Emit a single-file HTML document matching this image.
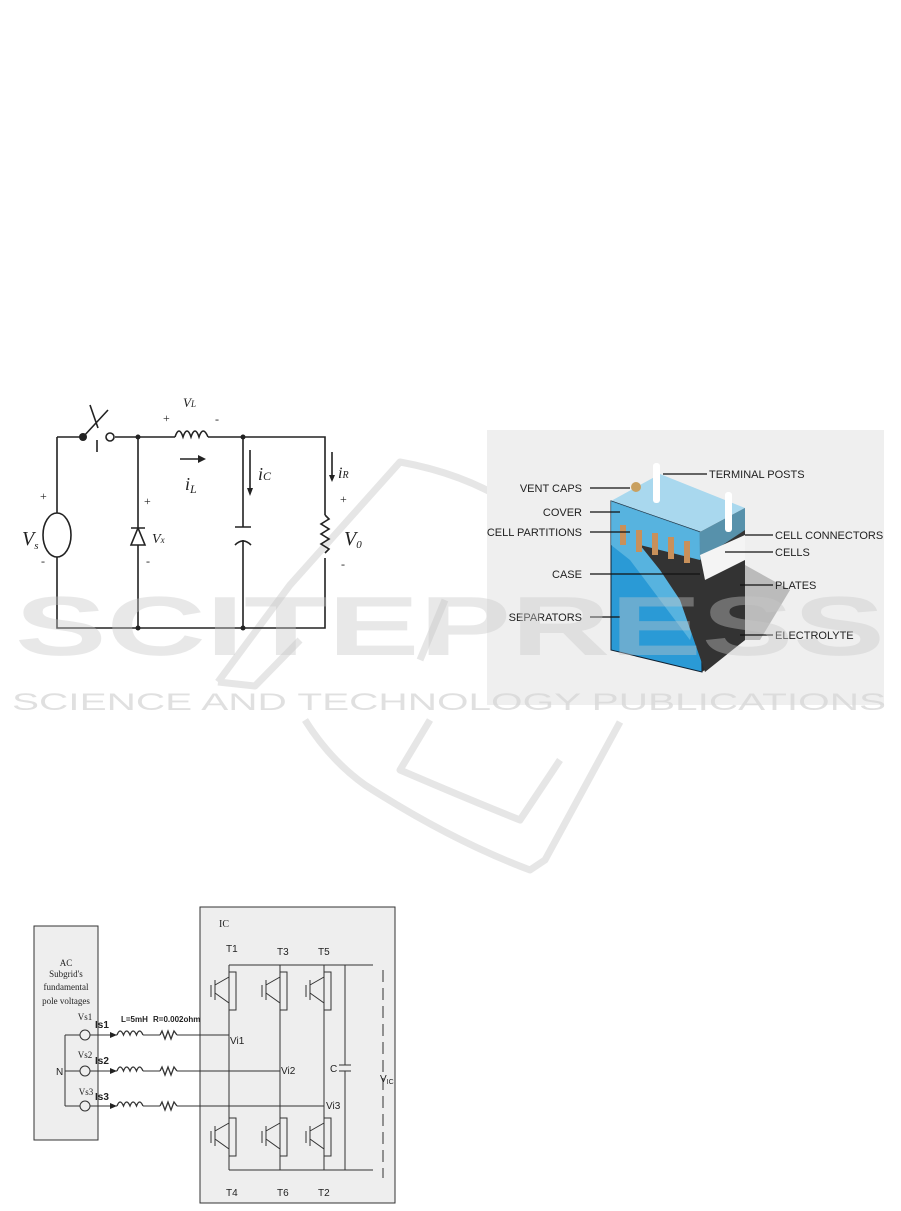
<!DOCTYPE html>
<html><head><meta charset="utf-8"><style>
html,body{margin:0;padding:0;background:#fff}
svg{display:block}
.it{font-family:"Liberation Serif",serif;font-style:italic}
.bl{font-family:"Liberation Sans Narrow","Liberation Sans",sans-serif;font-size:11px;fill:#222}
.sm{font-family:"Liberation Sans",sans-serif;font-size:10px;fill:#222}
.se{font-family:"Liberation Serif",serif;font-size:9px;fill:#222}
</style></head><body>
<svg width="901" height="1211" viewBox="0 0 901 1211" xmlns="http://www.w3.org/2000/svg">
<!-- swoosh watermark outline -->
<g stroke="#e6e6e6" stroke-width="7" fill="none" stroke-linejoin="round">
<path d="M218 682 L290 585 L400 462 Q500 480 560 545"/>
<path d="M218 682 L255 686 L300 640"/>
<path d="M305 720 Q330 760 365 785 Q450 840 530 870 L545 860 L620 722"/>
<path d="M430 720 L400 770 Q470 800 520 820 L560 760"/>
<path d="M420 660 L445 600"/>
</g>

<!-- top circuit -->
<g stroke="#222" stroke-width="1.6" fill="none">
<path d="M57 437 H83 M115 437 H175 M208 437 H325 V515 M325 558 V628 H57 V557 M57 513 V437"/>
<ellipse cx="57" cy="535" rx="14" ry="22"/>
<circle cx="110" cy="437" r="4"/>
<path d="M83 437 L108 410 M90 405 L98 428 M97 440 V452"/>
<path d="M175 437 q4 -12 8 0 q4 -12 8 0 q4 -12 8 0 q4 -12 9 0"/>
<path d="M138 437 V528 M138 545 V628 M131 545 H145 L138 528 Z M131 528 H145"/>
<path d="M243 437 V527 M235 527 H251 M235 545 Q243 537 251 545 M243 540 V628"/>
<path d="M325 515 l4 4 l-8 5 l8 5 l-8 5 l8 5 l-8 5 l8 5 l-4 4"/>
<path d="M180 459 H200 M332 452 V478 M250 450 V492"/>
</g>
<g fill="#222"><circle cx="138" cy="437" r="2.5"/><circle cx="243" cy="437" r="2.5"/><circle cx="138" cy="628" r="2.5"/><circle cx="243" cy="628" r="2.5"/><circle cx="83" cy="437" r="4"/>
<path d="M198 455 L206 459 L198 463Z"/><path d="M247 488 L250 496 L253 488Z"/><path d="M329 475 L332 482 L335 475Z"/></g>
<g class="it" fill="#222" font-size="12">
<text x="22" y="545" font-size="20">V<tspan font-size="11" dy="4">s</tspan></text>
<text x="40" y="500" font-style="normal">+</text><text x="41" y="565" font-style="normal">-</text>
<text x="152" y="543" font-size="14">V<tspan font-size="9">x</tspan></text>
<text x="144" y="505" font-style="normal">+</text><text x="146" y="565" font-style="normal">-</text>
<text x="183" y="407" font-size="13">V<tspan font-size="9">L</tspan></text>
<text x="163" y="422" font-style="normal">+</text><text x="215" y="423" font-style="normal">-</text>
<text x="185" y="490" font-size="18">i<tspan font-size="12" dy="3">L</tspan></text>
<text x="258" y="480" font-size="18">i<tspan font-size="12">C</tspan></text>
<text x="338" y="478" font-size="16">i<tspan font-size="10">R</tspan></text>
<text x="340" y="503" font-style="normal">+</text><text x="341" y="568" font-style="normal">-</text>
<text x="344" y="545" font-size="20">V<tspan font-size="11" dy="3">0</tspan></text>
</g>

<!-- battery -->
<rect x="487" y="430" width="397" height="275" fill="#efefef"/>
<polygon points="611,501 660,474 745,508 700,532" fill="#a9d8ee"/>
<polygon points="611,501 700,532 702,672 611,650" fill="#2a9ad6" stroke="#123" stroke-width="1"/>
<polygon points="700,532 745,508 745,640 702,672" fill="#2b2b2b"/>
<polygon points="611,501 700,532 745,508 745,560 700,600 690,640 660,600 630,560 611,545" fill="#6bbde3" opacity="0.7"/>
<polygon points="640,545 700,560 745,530 745,640 705,672 680,600 660,570" fill="#333"/>
<polygon points="700,555 745,535 745,560 705,580" fill="#f4f4f4"/>
<g fill="#c8905a"><rect x="620" y="525" width="6" height="20"/><rect x="636" y="530" width="6" height="22"/><rect x="652" y="533" width="6" height="22"/><rect x="668" y="537" width="6" height="22"/><rect x="684" y="541" width="6" height="22"/></g>
<g fill="#fff"><rect x="653" y="463" width="7" height="40" rx="3"/><rect x="725" y="492" width="7" height="40" rx="3"/><circle cx="636" cy="487" r="5" fill="#c9a060"/></g>
<polygon points="745,565 790,590 760,640 745,640" fill="#888" opacity="0.5"/>
<g stroke="#111" stroke-width="1.3">
<path d="M663 474 H707 M590 488 H630 M590 512 H620 M590 532 H630 M590 574 H700 M590 617 H620 M745 535 H773 M725 552 H773 M740 585 H773 M740 635 H773"/>
</g>
<g class="bl">
<text x="709" y="478">TERMINAL POSTS</text>
<text x="582" y="492" text-anchor="end">VENT CAPS</text>
<text x="582" y="516" text-anchor="end">COVER</text>
<text x="582" y="536" text-anchor="end">CELL PARTITIONS</text>
<text x="582" y="578" text-anchor="end">CASE</text>
<text x="582" y="621" text-anchor="end">SEPARATORS</text>
<text x="775" y="539">CELL CONNECTORS</text>
<text x="775" y="556">CELLS</text>
<text x="775" y="589">PLATES</text>
<text x="775" y="639">ELECTROLYTE</text>
</g>

<!-- watermark text -->
<text x="15" y="655" font-family="Liberation Sans,sans-serif" font-weight="bold" font-size="84" fill="#c8c8c8" opacity="0.4" textLength="870" lengthAdjust="spacingAndGlyphs">SCITEPRESS</text>
<text x="12" y="710" font-family="Liberation Sans,sans-serif" font-size="24" fill="#d4d4d4" opacity="0.7" textLength="874" lengthAdjust="spacingAndGlyphs">SCIENCE AND TECHNOLOGY PUBLICATIONS</text>

<!-- bottom circuit -->
<g stroke="#333" stroke-width="1" fill="none">
<rect x="34" y="926" width="64" height="214" fill="#eee"/>
<rect x="200" y="907" width="195" height="296" fill="#eee"/>
<path d="M65 1035 V1106 M65 1035 H80 M65 1071 H80 M65 1106 H80"/>
<circle cx="85" cy="1035" r="5"/><circle cx="85" cy="1071" r="5"/><circle cx="85" cy="1106" r="5"/>
<path d="M90 1035 H117 M90 1071 H117 M90 1106 H117"/>
<path d="M143 1035 H160 M177 1035 H229 M143 1071 H160 M177 1071 H280 M143 1106 H160 M177 1106 H324"/>
<g stroke-width="1.3">
<path d="M117 1035 q3 -8 6.5 0 q3 -8 6.5 0 q3 -8 6.5 0 q3 -8 6.5 0"/>
<path d="M117 1071 q3 -8 6.5 0 q3 -8 6.5 0 q3 -8 6.5 0 q3 -8 6.5 0"/>
<path d="M117 1106 q3 -8 6.5 0 q3 -8 6.5 0 q3 -8 6.5 0 q3 -8 6.5 0"/>
<path d="M160 1035 l2 -4 l3 8 l3 -8 l3 8 l3 -8 l3 4"/>
<path d="M160 1071 l2 -4 l3 8 l3 -8 l3 8 l3 -8 l3 4"/>
<path d="M160 1106 l2 -4 l3 8 l3 -8 l3 8 l3 -8 l3 4"/>
</g>
<path d="M229 965 H373 M229 1170 H373 M229 965 V1170 M280 965 V1170 M324 965 V1170 M345 965 V1065 M345 1071 V1170 M339 1065 H351 M339 1071 H351"/>
<path d="M383 970 V1178" stroke-dasharray="12 6"/>
</g>
<g id="igbt" stroke="#333" stroke-width="1" fill="none">
<path d="M229 967 v10 l-14 8 M215 980 v20 M211 985 v12 M215 993 l14 10 v10 M229 972 h7 v38 h-7"/>
</g>
<use href="#igbt" x="51" y="0"/><use href="#igbt" x="95" y="0"/>
<use href="#igbt" x="0" y="146"/><use href="#igbt" x="51" y="146"/><use href="#igbt" x="95" y="146"/>
<g fill="#222">
<path d="M110 1032 l7 3 l-7 3Z M110 1068 l7 3 l-7 3Z M110 1103 l7 3 l-7 3Z"/>
</g>
<g class="se" text-anchor="middle">
<text x="66" y="966">AC</text><text x="66" y="977">Subgrid's</text><text x="66" y="990">fundamental</text><text x="66" y="1004">pole voltages</text>
<text x="85" y="1020">Vs1</text><text x="85" y="1058">Vs2</text><text x="86" y="1095">Vs3</text>
<text x="224" y="927" font-size="10">IC</text>
</g>
<g class="sm">
<text x="56" y="1075">N</text>
<text x="95" y="1028" font-weight="bold">Is1</text><text x="95" y="1064" font-weight="bold">Is2</text><text x="95" y="1100" font-weight="bold">Is3</text>
<text x="121" y="1022" font-size="8" font-weight="bold">L=5mH</text>
<text x="153" y="1022" font-size="8" font-weight="bold">R=0.002ohm</text>
<text x="230" y="1044">Vi1</text><text x="281" y="1074">Vi2</text><text x="326" y="1109">Vi3</text>
<text x="226" y="952">T1</text><text x="277" y="955">T3</text><text x="318" y="955">T5</text>
<text x="226" y="1196">T4</text><text x="277" y="1196">T6</text><text x="318" y="1196">T2</text>
<text x="330" y="1072">C</text>
<text x="380" y="1082">V<tspan font-size="7" dy="2">IC</tspan></text>
</g>
</svg>
</body></html>
